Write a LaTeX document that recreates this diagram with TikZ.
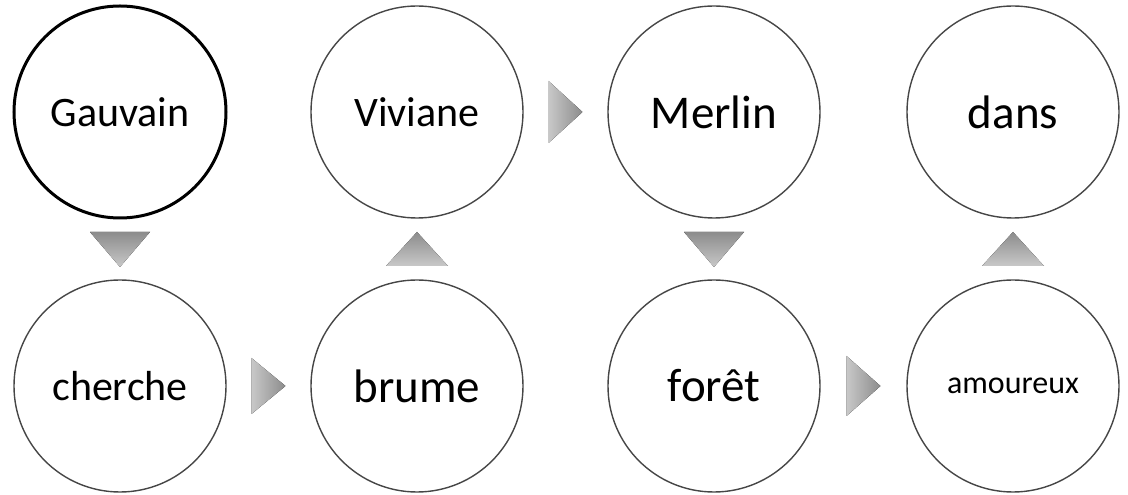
\documentclass[tikz,border=0pt]{standalone}
\usepackage{fontspec}
\setmainfont{Carlito}
\usetikzlibrary{calc}
\definecolor{ringgray}{RGB}{70,70,70}
\definecolor{tipdark}{RGB}{140,140,140}
\definecolor{tiplight}{RGB}{200,200,200}

\begin{document}
\begin{tikzpicture}[x=1pt, y=1pt,
  word/.style={circle, draw=ringgray, line width=1.4pt, fill=white, minimum size=212pt, inner sep=0pt, font=\fontsize{42}{50}\selectfont},
  bigword/.style={word, font=\fontsize{47}{56}\selectfont},
  downtip/.style={top color=tipdark, bottom color=tiplight},
  sidetip/.style={left color=tiplight, right color=tipdark}]
  \useasboundingbox (0,0) rectangle (1128,495);
  % top row
  \node[word, draw=black, line width=3pt] (gauvain) at (120,383) {Gauvain};
  \node[word] (viviane) at (417,383) {Viviane};
  \node[bigword] (merlin) at (714,383) {Merlin};
  \node[bigword] (dans) at (1013,383) {dans};
  % bottom row
  \node[word] (cherche) at (120,109) {cherche};
  \node[bigword] (brume) at (417,109) {brume};
  \node[bigword] (foret) at (714,109) {forêt};
  \node[word, font=\fontsize{32}{38}\selectfont] (amoureux) at (1013,109) {amoureux};
  % pointers between the words
  \fill[downtip] ($(gauvain)!0.5!(cherche)$) +(-30,17) -- +(30,17) -- +(0,-18) -- cycle;
  \fill[downtip] ($(viviane)!0.5!(brume)$) +(-31,-17) -- +(31,-17) -- +(0,17) -- cycle;
  \fill[downtip] ($(merlin)!0.5!(foret)$) +(-30,17) -- +(30,17) -- +(0,-18) -- cycle;
  \fill[downtip] ($(dans)!0.5!(amoureux)$) +(-31,-17) -- +(31,-17) -- +(0,17) -- cycle;
  \fill[sidetip] ($(cherche)!0.5!(brume)$) +(-17,28) -- +(17,0) -- +(-17,-28) -- cycle;
  \fill[sidetip] ($(viviane)!0.5!(merlin)$) +(-17,31) -- +(17,0) -- +(-17,-31) -- cycle;
  \fill[sidetip] ($(foret)!0.5!(amoureux)$) +(-17,30) -- +(17,0) -- +(-17,-30) -- cycle;
\end{tikzpicture}
\end{document}
